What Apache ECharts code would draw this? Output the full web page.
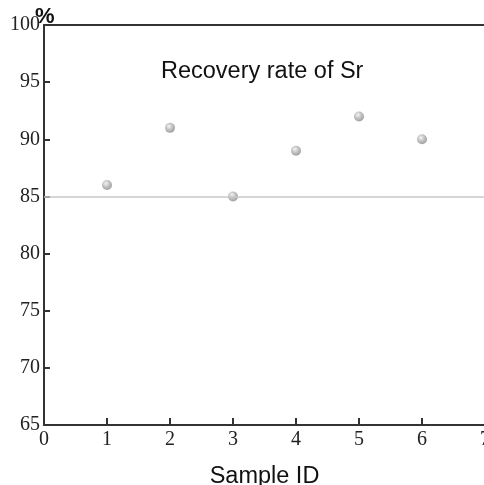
<!DOCTYPE html>
<html><head><meta charset="utf-8">
<script src="https://cdn.jsdelivr.net/npm/echarts@6/dist/echarts.min.js"></script>
<style>html,body{margin:0;padding:0;background:#fff}#c{width:484px;height:485px}</style>
</head><body><div id="c"></div>
<script>
const sampleIds = [1, 2, 3, 4, 5, 6];
const recovery = [86, 91, 85, 89, 92, 90];
const refLevel = 85;
const xTicks = [0, 1, 2, 3, 4, 5, 6, 7];
const yTicks = [65, 70, 75, 80, 85, 90, 95, 100];

const chart = echarts.init(document.getElementById('c'));
const axisColor = '#333';
const serif = '"Liberation Serif", "DejaVu Serif", serif';
const sans = '"Liberation Sans", Arial, sans-serif';
chart.setOption({
  animation: false,
  title: [{
    text: 'Recovery rate of Sr', left: 156, top: 55,
    textStyle: {fontFamily: sans, fontSize: 23.5, fontWeight: 'normal', color: '#111'}
  }, {
    text: '%', left: 35, top: 6, padding: 0,
    textStyle: {fontFamily: sans, fontSize: 22, fontWeight: 'bold', color: '#111'}
  }],
  grid: {left: 44, top: 25, width: 441, height: 400, outerBoundsMode: 'none', containLabel: false},
  xAxis: [{
    type: 'value', min: xTicks[0], max: xTicks[xTicks.length - 1], interval: 1,
    name: 'Sample ID', nameLocation: 'middle', nameGap: 40,
    nameTextStyle: {fontFamily: sans, fontSize: 23.5, color: '#111'},
    axisLine: {show: true, lineStyle: {color: axisColor, width: 2}},
    axisTick: {show: true, inside: true, length: 7, lineStyle: {color: axisColor, width: 2}},
    axisLabel: {fontFamily: serif, fontSize: 20, color: '#222', margin: 5, showMaxLabel: true},
    splitLine: {show: false}
  }, {
    type: 'value', position: 'top', min: 0, max: 7,
    axisLine: {show: true, onZero: false, lineStyle: {color: axisColor, width: 2}},
    axisTick: {show: false}, axisLabel: {show: false}, splitLine: {show: false}
  }],
  yAxis: {
    type: 'value', min: yTicks[0], max: yTicks[yTicks.length - 1], interval: 5,
    axisLine: {show: true, lineStyle: {color: axisColor, width: 2}},
    axisTick: {show: true, inside: true, length: 6, lineStyle: {color: axisColor, width: 2}},
    axisLabel: {fontFamily: serif, fontSize: 20, color: '#222', margin: 4},
    splitLine: {show: false}
  },
  series: [{
    type: 'scatter',
    data: sampleIds.map((x, i) => [x, recovery[i]]),
    symbolSize: 10,
    itemStyle: {
      color: {type: 'radial', x: 0.4, y: 0.35, r: 0.65,
        colorStops: [{offset: 0, color: '#f2f2f2'}, {offset: 0.5, color: '#b5b5b5'}, {offset: 1, color: '#8a8a8a'}]}
    },
    markLine: {
      silent: true, symbol: 'none', label: {show: false},
      lineStyle: {color: '#c8c8c8', width: 1.5, type: 'solid'},
      data: [{yAxis: refLevel}]
    },
    z: 3
  }]
});
</script></body></html>
